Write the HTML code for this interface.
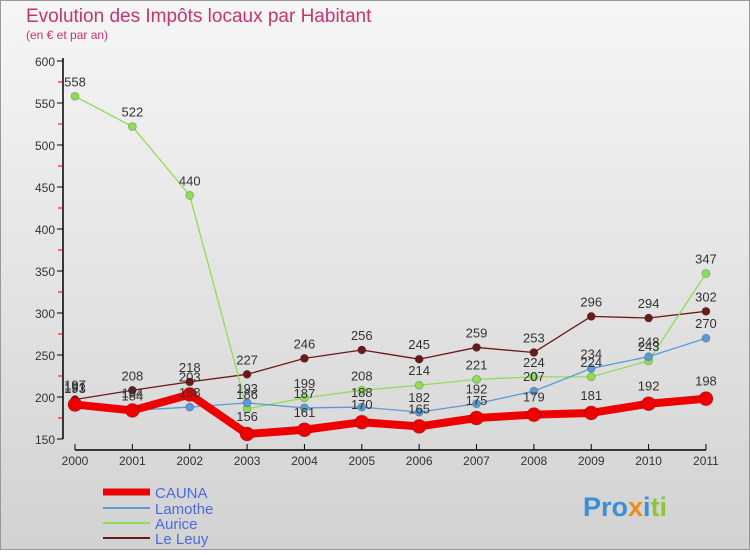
<!DOCTYPE html>
<html><head><meta charset="utf-8"><style>
body{margin:0;width:750px;height:550px;overflow:hidden;font-family:"Liberation Sans",sans-serif}
</style></head><body>
<svg width="750" height="550" xmlns="http://www.w3.org/2000/svg">
<defs><linearGradient id="bg" x1="0" y1="0" x2="0" y2="1"><stop offset="0" stop-color="#f6f6f6"/><stop offset="1" stop-color="#d2d2d2"/></linearGradient></defs>
<rect x="0.5" y="0.5" width="749" height="549" fill="url(#bg)" stroke="#999"/>
<text x="26" y="22" font-size="19" fill="#c8336e">Evolution des Impôts locaux par Habitant</text>
<text x="26" y="39" font-size="12" fill="#c8336e">(en € et par an)</text>
<g id="axes"></g><g id="series"></g><g id="labels"></g>
<g font-size="15">
<line x1="103" y1="492" x2="150" y2="492" stroke="#e00" stroke-width="7"/><text x="155" y="498" fill="#4a6adf">CAUNA</text>
<line x1="103" y1="508" x2="150" y2="508" stroke="#5b9bd5" stroke-width="2"/><text x="155" y="514" fill="#4a6adf">Lamothe</text>
<line x1="103" y1="523" x2="150" y2="523" stroke="#8fdd55" stroke-width="2"/><text x="155" y="529" fill="#4a6adf">Aurice</text>
<line x1="103" y1="538" x2="150" y2="538" stroke="#6b1a1a" stroke-width="2"/><text x="155" y="544" fill="#4a6adf">Le Leuy</text>
</g>
<text x="583" y="516" font-size="27" font-weight="bold"><tspan fill="#3a8fd8">Pro</tspan><tspan fill="#f08a1c">x</tspan><tspan fill="#3a8fd8">i</tspan><tspan fill="#8cc63f">ti</tspan></text>
</svg>
<script>
const years=["2000","2001","2002","2003","2004","2005","2006","2007","2008","2009","2010","2011"];
const cauna=[191,184,203,156,161,170,165,175,179,181,192,198];
const lamothe=[193,184,188,193,187,188,182,192,207,234,248,270];
const aurice=[558,522,440,186,199,208,214,221,224,224,243,347];
const leuy=[197,208,218,227,246,256,245,259,253,296,294,302];
const yTicks=[150,200,250,300,350,400,450,500,550,600];
const NS="http://www.w3.org/2000/svg";
const X=i=>75+i*57.36, Y=v=>439-(v-150)*0.84;
function mk(t,a,p){const e=document.createElementNS(NS,t);for(const k in a)e.setAttribute(k,a[k]);document.getElementById(p).appendChild(e);return e;}
const ax=mk("line",{x1:63,y1:58,x2:63,y2:439,stroke:"#000","stroke-width":1.5},"axes");


const xa=mk("line",{x1:75,y1:450,x2:706,y2:450,stroke:"#000","stroke-width":1.5},"axes");


yTicks.forEach(v=>{
 mk("line",{x1:57,y1:Y(v),x2:63,y2:Y(v),stroke:"#000"},"axes");
 if(v<600) mk("line",{x1:58,y1:Y(v+25),x2:63,y2:Y(v+25),stroke:"#e00"},"axes");
 const t=mk("text",{x:55,y:Y(v)+5,"text-anchor":"end","font-size":12,fill:"#333"},"axes");t.textContent=v;
 
 
});
years.forEach((y,i)=>{
 mk("line",{x1:X(i),y1:444,x2:X(i),y2:450,stroke:"#000"},"axes");
 const t=mk("text",{x:X(i),y:465,"text-anchor":"middle","font-size":12,fill:"#333"},"axes");t.textContent=y;
 
 
});
function series(d,col,w,r,name){
 const p=mk("polyline",{points:d.map((v,i)=>X(i)+","+Y(v)).join(" "),fill:"none",stroke:col,"stroke-width":w,"stroke-linejoin":"round"},"series");
 
 
 d.forEach((v,i)=>{
  const c=mk("circle",{cx:X(i),cy:Y(v),r:r,fill:col,stroke:"rgba(0,0,0,0.25)","stroke-width":0.8},"series");
  
  
  const t=mk("text",{x:X(i),y:Y(v)-(r+6),"text-anchor":"middle","font-size":13,fill:"#333"},"labels");t.textContent=v;
  
  
 });
}
series(leuy,"#6b1a1a",1.3,4,"le-leuy");
series(aurice,"#8fdd55",1.3,4,"aurice");
series(lamothe,"#5b9bd5",1.3,4,"lamothe");
series(cauna,"#e00",8,7,"cauna");
</script>
</body></html>
